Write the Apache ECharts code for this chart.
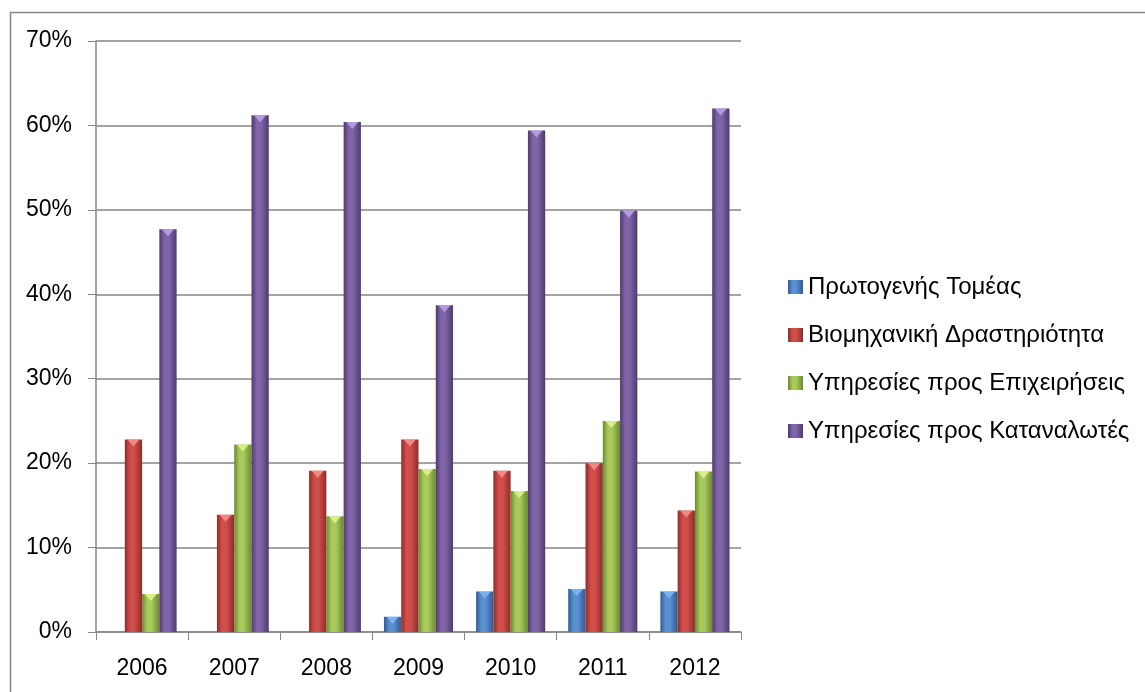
<!DOCTYPE html>
<html>
<head>
<meta charset="utf-8">
<script src="https://cdn.jsdelivr.net/npm/echarts@6/dist/echarts.min.js"></script>
<style>
html,body{margin:0;padding:0;background:#fff;}
#c{width:1145px;height:692px;}
</style>
</head>
<body>
<div id="c"></div>
<script>
const years = ['2006','2007','2008','2009','2010','2011','2012'];
const seriesNames = ['Πρωτογενής Τομέας','Βιομηχανική Δραστηριότητα','Υπηρεσίες προς Επιχειρήσεις','Υπηρεσίες προς Καταναλωτές'];
const primary   = [null, null, null, 1.8, 4.8, 5.1, 4.8];
const industry  = [22.8, 13.9, 19.1, 22.8, 19.1, 20.0, 14.4];
const business  = [4.5, 22.2, 13.7, 19.3, 16.7, 25.0, 19.0];
const consumer  = [47.7, 61.2, 60.4, 38.7, 59.4, 49.9, 62.0];
const yTicks = [0,10,20,30,40,50,60,70];

const palettes = [
  {edge:'#2e5c91', mid:'#5b8fd0', top:'#86b8f2'},
  {edge:'#8c2d2a', mid:'#d24e4a', top:'#f49490'},
  {edge:'#6c8a2f', mid:'#a8ca5c', top:'#e0f590'},
  {edge:'#4f3a6e', mid:'#8064a8', top:'#bca4e8'}
];
function grad(p){
  return {type:'linear',x:0,y:0,x2:1,y2:0,colorStops:[
    {offset:0,color:p.edge},{offset:0.3,color:p.mid},{offset:0.55,color:p.mid},{offset:1,color:p.edge}]};
}
const datasets = [primary, industry, business, consumer];
const font = 'Liberation Sans';
const series = datasets.map((d,i)=>({
  name: seriesNames[i], type:'bar', data:d, barGap:'0%', barCategoryGap:'25%',
  itemStyle:{color:grad(palettes[i])}
}));
datasets.forEach((d,i)=>{
  series.push({
    name:'top'+i, type:'pictorialBar', data:d, barGap:'0%', barCategoryGap:'25%',
    symbol:'triangle', symbolRotate:180, symbolPosition:'end', symbolSize:['70%',7],
    symbolOffset:[0,0], z:5, silent:true,
    itemStyle:{color:palettes[i].top, opacity:0.85}
  });
});

const chart = echarts.init(document.getElementById('c'));
chart.setOption({
  animation:false,
  textStyle:{fontFamily:font},
  grid:{left:96,right:404,top:41,bottom:60},
  legend:{
    orient:'vertical', left:783, top:270, itemWidth:15, itemHeight:14, itemGap:24,
    icon:'rect',
    textStyle:{fontFamily:font,fontSize:24,color:'#000'},
    data: seriesNames.map((n,i)=>({name:n,itemStyle:{color:grad(palettes[i])}}))
  },
  graphic:[{type:'rect',shape:{x:10.5,y:12.5,width:1300,height:900},style:{fill:null,stroke:'#868686',lineWidth:1.5},silent:true}],
  xAxis:{
    type:'category', data:years,
    axisLine:{lineStyle:{color:'#868686',width:1.5}},
    axisTick:{show:true,length:8,lineStyle:{color:'#868686'}},
    axisLabel:{color:'#000',fontSize:23,margin:25,fontFamily:font}
  },
  yAxis:{
    type:'value', min:0, max:70, interval:10,
    axisLine:{show:true,lineStyle:{color:'#868686',width:1.5}},
    axisTick:{show:true,length:8,lineStyle:{color:'#868686'}},
    splitLine:{lineStyle:{color:'#868686',width:1.5}},
    axisLabel:{color:'#000',fontSize:23,margin:24,fontFamily:font,formatter:v=>v+'%'}
  },
  series:series
});
</script>
</body>
</html>
